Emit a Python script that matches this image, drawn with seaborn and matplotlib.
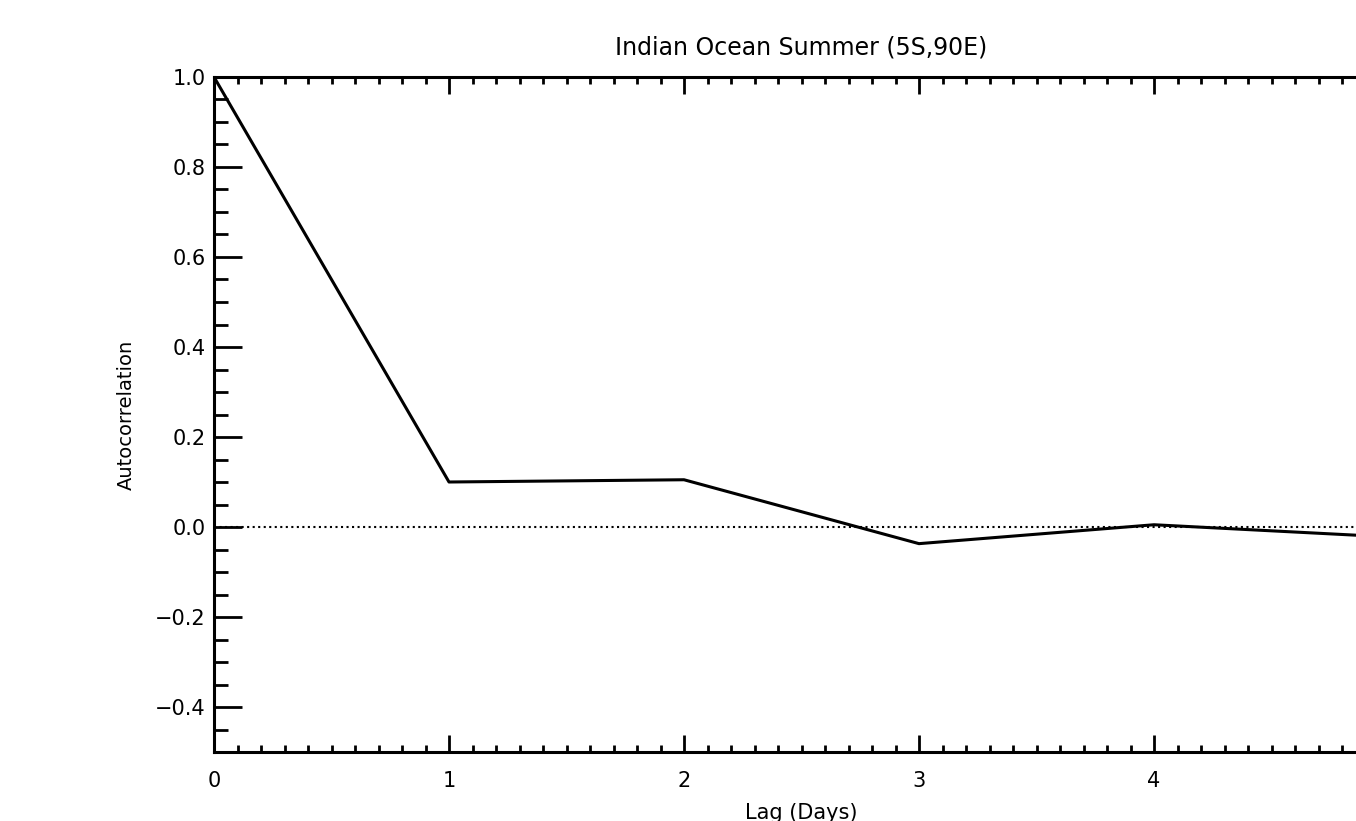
import matplotlib.pyplot as plt
import pandas as pd
import seaborn as sns
from matplotlib.ticker import MultipleLocator

lag_days = [0, 1, 2, 3, 4, 5]
autocorr = [1.0, 0.10, 0.105, -0.037, 0.005, -0.022]

df = pd.DataFrame({'Lag (Days)': lag_days, 'Autocorrelation': autocorr})

sns.set_style("ticks")
plt.rcParams['font.family'] = ['DejaVu Sans']
plt.rcParams['text.color'] = 'black'
plt.rcParams['axes.labelcolor'] = 'black'

fig = plt.figure(figsize=(13.56, 8.21), dpi=100)
# axes run to lag 5, past the right edge of the picture (as in the original crop)
ax = fig.add_axes([214 / 1356, 69 / 821, 5 * 235 / 1356, 675 / 821])

sns.lineplot(data=df, x='Lag (Days)', y='Autocorrelation', ax=ax,
             color='black', linewidth=2.2)
ax.axhline(0, color='black', linestyle=':', linewidth=1.5)

ax.set_xlim(0, 5)
ax.set_ylim(-0.5, 1.0)
ax.xaxis.set_major_locator(MultipleLocator(1))
ax.xaxis.set_minor_locator(MultipleLocator(0.1))
ax.yaxis.set_major_locator(MultipleLocator(0.2))
ax.yaxis.set_minor_locator(MultipleLocator(0.05))
# the label for lag 5 falls outside the cropped picture
ax.xaxis.set_major_formatter(plt.FuncFormatter(lambda v, p: f'{v:.0f}' if v < 4.5 else ''))
ax.yaxis.set_major_formatter(plt.FuncFormatter(lambda v, p: f'{v:.1f}'.replace('-', '\u2212')))

ax.tick_params(which='both', direction='in', top=True, right=True, colors='black',
               labelsize=15, width=2)
ax.tick_params(axis='x', which='major', length=12, pad=14)
ax.tick_params(axis='x', which='minor', length=5)
ax.tick_params(axis='y', which='major', length=20, pad=6)
ax.tick_params(axis='y', which='minor', length=10)
for s in ax.spines.values():
    s.set_linewidth(2.2)
    s.set_color('black')

ax.set_title('Indian Ocean Summer (5S,90E)', fontsize=17, pad=16, color='black')
ax.set_xlabel('Lag (Days)', fontsize=15, labelpad=8)
ax.set_ylabel('Autocorrelation', fontsize=14, labelpad=14)

plt.savefig('out.png', dpi=100)
